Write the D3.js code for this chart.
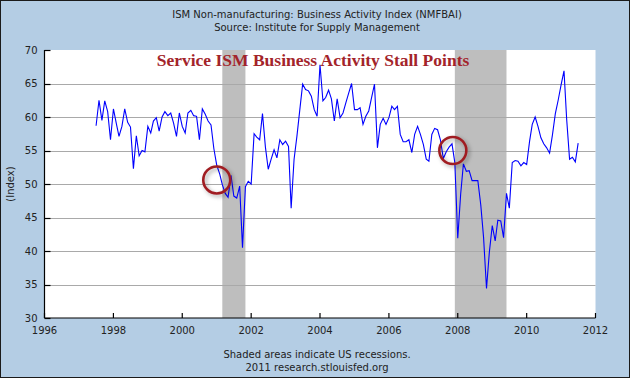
<!DOCTYPE html>
<html><head><meta charset="utf-8">
<script src="https://cdn.jsdelivr.net/npm/d3@7"></script>
<style>body{margin:0;background:#fff}svg{display:block}</style>
</head><body>
<svg id="chart" width="630" height="378"></svg>
<script>
// ---- data ----
const seriesStart = [1997, 6]; // July 1997 (month 0-based)
const nmfbai = [
  // 1997 Jul-Dec
  58.7, 62.5, 59.5, 62.4, 60.8, 56.6,
  // 1998
  61.2, 59.0, 57.1, 58.6, 61.2, 59.2, 58.5, 52.3, 57.2, 54.2, 55.0, 54.8,
  // 1999
  58.6, 57.6, 59.4, 59.9, 57.9, 60.0, 60.8, 60.2, 60.6, 59.1, 57.1, 60.6,
  // 2000
  58.6, 57.6, 60.6, 61.0, 60.2, 60.1, 56.6, 61.2, 60.4, 59.4, 58.8, 55.3,
  // 2001
  52.8, 51.5, 49.9, 48.6, 48.0, 51.3, 48.2, 47.9, 49.7, 40.5, 49.6, 50.4,
  // 2002
  50.0, 57.5, 57.0, 56.6, 60.5, 55.5, 52.2, 53.7, 55.1, 53.9, 56.6, 55.9,
  // 2003
  56.4, 55.6, 46.4, 53.7, 57.1, 61.1, 64.9, 64.1, 63.9, 63.1, 61.1, 60.1,
  // 2004
  67.8, 62.4, 62.9, 64.0, 62.7, 59.4, 62.7, 59.9, 60.6, 62.1, 63.6, 65.0,
  // 2005
  61.1, 61.1, 61.4, 58.9, 60.1, 60.9, 62.9, 64.9, 55.4, 58.9, 59.8, 58.9,
  // 2006
  59.9, 61.6, 61.1, 61.6, 57.4, 56.3, 56.3, 56.6, 54.7, 57.4, 58.6, 57.4,
  // 2007
  55.9, 53.7, 53.4, 57.4, 58.3, 58.1, 56.6, 53.8, 54.8, 55.5, 56.0, 53.2,
  // 2008
  41.9, 48.5, 53.0, 51.9, 52.0, 50.5, 50.5, 50.5, 46.9, 42.0, 34.4, 39.8,
  // 2009
  43.8, 41.5, 44.6, 44.5, 42.0, 48.6, 46.4, 53.2, 53.5, 53.4, 52.7, 53.2,
  // 2010
  52.9, 56.4, 58.9, 60.0, 58.6, 56.9, 56.0, 55.4, 54.6, 57.3, 60.5, 62.5,
  // 2011 Jan-Jul
  64.8, 66.9, 59.7, 53.7, 54.0, 53.3, 56.1
];
const recessionStarts = ["2001-03-01", "2007-12-01"];
const recessionEnds   = ["2001-11-01", "2009-06-01"];
const stallDates  = ["2001-01-01", "2007-11-10"];
const stallValues = [50.6, 55.0];
const xTickYears = [1996, 1998, 2000, 2002, 2004, 2006, 2008, 2010, 2012];
const yTicks = [30, 35, 40, 45, 50, 55, 60, 65, 70];
const headerLines = ["ISM Non-manufacturing: Business Activity Index (NMFBAI)",
                     "Source: Institute for Supply Management"];
const footerLines = ["Shaded areas indicate US recessions.", "2011 research.stlouisfed.org"];
const chartTitle = "Service ISM Business Activity Stall Points";
const yLabel = "(Index)";

// ---- layout ----
const W = 630, H = 378;
const L = 44.5, R = 595.5, T = 50, B = 318;
const parse = s => { const [y,m,d] = s.split("-").map(Number); return new Date(y, m-1, d); };
const points = nmfbai.map((v, i) => ({date: new Date(seriesStart[0], seriesStart[1] + i, 1), value: v}));

const x = d3.scaleTime().domain([new Date(1996,0,1), new Date(2012,0,1)]).range([L, R]);
const y = d3.scaleLinear().domain([30, 70]).range([B, T]);

const svg = d3.select("#chart");
const font = "DejaVu Sans, Verdana, sans-serif";

svg.append("rect").attr("x",0.5).attr("y",0.5).attr("width",W-1).attr("height",H-1)
  .attr("fill","#b4cde4").attr("stroke","#1a1a1a").attr("stroke-width",1);

svg.append("rect").attr("x",L).attr("y",T).attr("width",R-L).attr("height",B-T).attr("fill","#ffffff");

// recessions
svg.append("g").selectAll("rect").data(recessionStarts.map((s,i)=>[parse(s),parse(recessionEnds[i])]))
  .join("rect")
  .attr("x", d => x(d[0])).attr("width", d => x(d[1]) - x(d[0]))
  .attr("y", T).attr("height", B - T).attr("fill", "#bebebe");

// gridlines
svg.append("g").selectAll("line").data(yTicks.filter(v => v > 30 && v < 70)).join("line")
  .attr("x1", L).attr("x2", R).attr("y1", d => Math.round(y(d))+0.5).attr("y2", d => Math.round(y(d))+0.5)
  .attr("stroke", "#a9a9a9").attr("stroke-width", 1.2);

// line
svg.append("path").datum(points)
  .attr("fill","none").attr("stroke","#0000ff").attr("stroke-width",1.1)
  .attr("d", d3.line().x(d => x(d.date)).y(d => y(d.value)));

// axes
const ax = svg.append("g").attr("stroke","#000").attr("stroke-width",1.2);
ax.append("line").attr("x1",L).attr("x2",L).attr("y1",T).attr("y2",B);
ax.append("line").attr("x1",L).attr("x2",R).attr("y1",B).attr("y2",B);
ax.selectAll(".yt").data(yTicks).join("line").attr("class","yt")
  .attr("x1",L).attr("x2",L+6).attr("y1",d=>Math.round(y(d))+0.5).attr("y2",d=>Math.round(y(d))+0.5);
ax.selectAll(".xt").data(xTickYears).join("line").attr("class","xt")
  .attr("x1",d=>x(new Date(d,0,1))).attr("x2",d=>x(new Date(d,0,1))).attr("y1",B).attr("y2",B-5);

svg.append("g").selectAll("text").data(yTicks).join("text")
  .attr("x", L-7).attr("y", d => y(d)+3.5).attr("text-anchor","end")
  .attr("font-family",font).attr("font-size",10).attr("fill","#222").text(d=>d);
svg.append("g").selectAll("text").data(xTickYears).join("text")
  .attr("x", d => x(new Date(d,0,1))).attr("y", B+16).attr("text-anchor","middle")
  .attr("font-family",font).attr("font-size",10).attr("fill","#222").text(d=>d);

svg.append("text").attr("transform",`translate(14,${(T+B)/2}) rotate(-90)`).attr("text-anchor","middle")
  .attr("font-family",font).attr("font-size",10).attr("fill","#222").text(yLabel);

svg.append("g").selectAll("text").data(headerLines).join("text")
  .attr("x", 317).attr("y",(d,i)=>17.5+i*13.5).attr("text-anchor","middle")
  .attr("font-family",font).attr("font-size",10).attr("fill","#222").text(d=>d);
svg.append("g").selectAll("text").data(footerLines).join("text")
  .attr("x", 317).attr("y",(d,i)=>358+i*13).attr("text-anchor","middle")
  .attr("font-family",font).attr("font-size",10).attr("fill","#222").text(d=>d);

// title annotation
svg.append("text").attr("x", 313).attr("y", 66).attr("text-anchor","middle")
  .attr("font-family","Liberation Serif, Times New Roman, serif").attr("font-weight","bold")
  .attr("font-size",17.5).attr("fill","#a3242a").text(chartTitle);

// stall circles
const defs = svg.append("defs");
const f = defs.append("filter").attr("id","sh").attr("x","-50%").attr("y","-50%").attr("width","200%").attr("height","200%");
f.append("feDropShadow").attr("dx",2).attr("dy",2).attr("stdDeviation",2).attr("flood-color","#000").attr("flood-opacity",0.35);
svg.append("g").selectAll("circle").data(stallDates.map((s,i)=>({date:parse(s), value:stallValues[i]})))
  .join("circle")
  .attr("cx", d => x(d.date)).attr("cy", d => y(d.value)).attr("r", 13.5)
  .attr("fill","none").attr("stroke","#a01e22").attr("stroke-width",2.6).attr("filter","url(#sh)");
</script>
</body></html>
